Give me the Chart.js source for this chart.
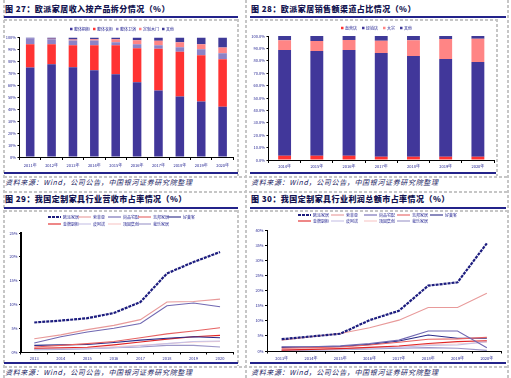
<!DOCTYPE html>
<html><head><meta charset="utf-8">
<script src="https://cdn.jsdelivr.net/npm/chart.js@4.4.0/dist/chart.umd.min.js"></script>
<style>
html,body{margin:0;padding:0;background:#fff;}
body{width:511px;height:378px;position:relative;overflow:hidden;font-family:"Noto Sans CJK SC","Noto Sans",sans-serif;}
.t{position:absolute;font-weight:900;font-size:8px;letter-spacing:0.45px;color:#141450;white-space:nowrap;line-height:10px;}
.src{position:absolute;font-style:italic;font-size:7px;letter-spacing:0.65px;color:#18185e;white-space:nowrap;line-height:9px;}
.rule{position:absolute;height:2px;background:#23238a;}
.dh{position:absolute;height:1.5px;background:repeating-linear-gradient(90deg,#c6c6c6 0 3px,transparent 3px 5px);}
.dv{position:absolute;width:1.5px;background:repeating-linear-gradient(180deg,#c6c6c6 0 3px,transparent 3px 5px);}
canvas{position:absolute;}
</style></head>
<body>
<div class="dv" style="left:3px;top:0;height:378px"></div>
<div class="dv" style="left:245px;top:0;height:378px"></div>
<div class="dv" style="left:507px;top:0;height:378px"></div>
<div class="dv" style="left:237px;top:19px;height:157px"></div>
<div class="dv" style="left:496px;top:19px;height:157px"></div>
<div class="dv" style="left:237px;top:210px;height:156px"></div>
<div class="dh" style="left:4px;top:19px;width:234px"></div>
<div class="dh" style="left:250px;top:19px;width:247px"></div>
<div class="dh" style="left:4px;top:176px;width:504px"></div>
<div class="dh" style="left:4px;top:191px;width:504px"></div>
<div class="dh" style="left:4px;top:210px;width:234px"></div>
<div class="dh" style="left:250px;top:210px;width:257px"></div>
<div class="dh" style="left:4px;top:366px;width:504px"></div>

<div class="t" style="left:5px;top:4px">图 27：欧派家居收入按产品拆分情况（%）</div>
<div class="t" style="left:251px;top:4px">图 28：欧派家居销售额渠道占比情况（%）</div>
<div class="t" style="left:5px;top:194px">图 29：我国定制家具行业营收市占率情况（%）</div>
<div class="t" style="left:251px;top:194px">图 30：我国定制家具行业利润总额市占率情况（%）</div>

<div class="rule" style="left:4px;top:16px;width:234px"></div>
<div class="rule" style="left:250px;top:16px;width:256px"></div>
<div class="rule" style="left:4px;top:172px;width:234px"></div>
<div class="rule" style="left:250px;top:172px;width:246px"></div>
<div class="rule" style="left:4px;top:207px;width:234px"></div>
<div class="rule" style="left:250px;top:207px;width:256px"></div>
<div class="rule" style="left:4px;top:362px;width:234px"></div>
<div class="rule" style="left:250px;top:362px;width:256px"></div>

<div class="src" style="left:5px;top:178px">资料来源：Wind，公司公告，中国银河证券研究院整理</div>
<div class="src" style="left:251px;top:178px">资料来源：Wind，公司公告，中国银河证券研究院整理</div>
<div class="src" style="left:5px;top:368px">资料来源：Wind，公司公告，中国银河证券研究院整理</div>
<div class="src" style="left:251px;top:368px">资料来源：Wind，公司公告，中国银河证券研究院整理</div>

<canvas id="c27" width="232" height="152" style="left:5px;top:20px"></canvas>
<canvas id="c28" width="245" height="152" style="left:251px;top:20px"></canvas>
<canvas id="c29" width="232" height="152" style="left:5px;top:210px"></canvas>
<canvas id="c30" width="255" height="152" style="left:251px;top:210px"></canvas>

<script>
// ---------- Chart 27 data ----------
const years27 = ['2011年','2012年','2013年','2014年','2015年','2016年','2017年','2018年','2019年','2020年'];
const cabinet27  = [75.0, 77.6, 75.1, 72.5, 69.2, 62.5, 55.7, 50.7, 46.5, 42.0];
const wardrobe27 = [19.4, 16.8, 18.5, 21.1, 24.4, 28.5, 34.8, 37.3, 38.7, 39.8];
const bath27     = [5.0, 4.2, 3.9, 3.9, 2.5, 3.4, 3.1, 3.9, 5.0, 5.0];
const door27     = [0.0, 0.3, 0.8, 1.1, 2.5, 3.4, 3.6, 4.2, 4.2, 4.8];
const other27    = [0.6, 1.1, 1.7, 1.4, 1.4, 2.2, 2.8, 3.9, 5.6, 8.4];

// ---------- Chart 28 data ----------
const years28 = ['2014年','2015年','2016年','2017年','2018年','2019年','2020年'];
const direct28 = [3.5, 3.5, 3.5, 2.7, 2.7, 2.7, 2.7];
const dealer28 = [85.2, 84.4, 85.2, 83.6, 81.2, 78.8, 76.3];
const bulk28   = [7.8, 8.1, 8.1, 9.9, 12.6, 16.1, 18.8];
const other28  = [3.5, 4.0, 3.2, 3.8, 3.5, 2.4, 2.2];

// ---------- Chart 29 data (revenue share) ----------
const years29 = ['2013','2014','2015','2016','2017','2018','2019','2020'];
const oppein29  = [6.2, 6.6, 7.1, 8.2, 10.5, 16.5, 18.9, 21.0];
const sogal29   = [2.8, 3.6, 4.7, 5.6, 6.8, 10.5, 10.6, 11.1];
const shangpin29= [1.9, 3.2, 4.2, 5.0, 6.0, 9.7, 10.3, 9.5];
const zbom29    = [1.05, 1.4, 1.75, 2.2, 3.0, 3.8, 4.4, 5.1];
const holike29  = [1.4, 1.5, 1.6, 2.0, 2.5, 2.9, 3.2, 3.0];
const goldenh29 = [0.8, 0.9, 1.0, 1.5, 2.1, 2.7, 3.2, 3.5];
const piano29   = [0.6, 0.65, 0.7, 0.9, 1.3, 1.75, 2.2, 2.3];
const topstrong29=[0.7, 0.75, 0.8, 1.1, 1.4, 1.8, 2.1, 2.2];
const wole29    = [0.5, 0.55, 0.7, 0.9, 1.05, 1.4, 1.4, 1.05];

// ---------- Chart 30 data (profit share) ----------
const years30 = ['2013年','2014年','2015年','2016年','2017年','2018年','2019年','2020年'];
const oppein30  = [3.9, 4.8, 5.7, 10.2, 13.3, 21.6, 22.7, 35.6];
const sogal30   = [3.6, 4.7, 5.8, 7.7, 10.2, 14.4, 14.4, 19.1];
const shangpin30= [1.4, 1.4, 1.7, 2.5, 3.6, 6.6, 6.6, 1.1];
const zbom30    = [0.9, 1.1, 1.3, 2.0, 2.9, 3.9, 4.0, 4.5];
const holike30  = [1.2, 1.3, 1.5, 2.2, 3.3, 5.3, 4.2, 4.2];
const goldenh30 = [0.3, 0.55, 0.8, 1.2, 1.65, 2.5, 3.1, 3.4];
const piano30   = [0.3, 0.4, 0.55, 0.9, 1.2, 1.8, 2.0, 3.1];
const topstrong30=[0.55, 0.6, 0.7, 1.1, 1.5, 2.2, 2.3, 2.9];
const wole30    = [0.2, 0.3, 0.45, 0.65, 0.9, 1.1, 0.9, 0.2];

const companies = ['欧派家居','索菲亚','尚品宅配','志邦家居','好莱客','金牌厨柜','皮阿诺','顶固集创','我乐家居'];

// ---------- styling ----------
const NAVY = '#41379a', RED = '#ff3333', LAV = '#8c82c6', PINK = '#ff8585';
const lineColors = ['#1c1c7e','#e89a9a','#7068b2','#e66262','#2b2b88','#e02626','#c6c2e6','#f8c6c6','#9c96c8'];
const TICK = '#1f1f8f';
Chart.defaults.font.family = '"Noto Sans CJK SC","Noto Sans",sans-serif';
Chart.defaults.font.size = 4;
Chart.defaults.color = TICK;

function gridLegend(cfg) {
  return {
    id: 'gridLegend',
    afterDraw(chart) {
      const ctx = chart.ctx;
      ctx.save();
      ctx.font = cfg.fontSize + 'px "Noto Sans CJK SC", sans-serif';
      ctx.textBaseline = 'middle';
      let x = cfg.x;
      chart.data.datasets.forEach((ds, i) => {
        let ix, iy;
        if (cfg.cols) { ix = cfg.x + (i % cfg.cols) * cfg.colW; iy = cfg.y + Math.floor(i / cfg.cols) * cfg.rowH; }
        else { ix = x; iy = cfg.y; }
        let mw;
        if (cfg.marker === 'box') {
          ctx.fillStyle = ds.backgroundColor;
          ctx.fillRect(ix, iy - cfg.box / 2, cfg.box, cfg.box);
          mw = cfg.box;
        } else {
          ctx.strokeStyle = ds.borderColor;
          ctx.lineWidth = ds.borderWidth;
          ctx.setLineDash(ds.borderDash || []);
          ctx.beginPath(); ctx.moveTo(ix, iy); ctx.lineTo(ix + cfg.lineLen, iy); ctx.stroke();
          ctx.setLineDash([]);
          mw = cfg.lineLen;
        }
        ctx.fillStyle = cfg.color;
        ctx.fillText(ds.label, ix + mw + cfg.gap, iy);
        if (!cfg.cols) x = ix + mw + cfg.gap + ctx.measureText(ds.label).width + cfg.spacing;
      });
      ctx.restore();
    }
  };
}

function axisX(h, tickLen, pad) {
  return {
    grid: { display: true, drawOnChartArea: false, drawTicks: true, tickLength: tickLen, color: '#000', offset: true, lineWidth: 1 },
    border: { display: true, color: '#000', width: 1 },
    ticks: { color: TICK, font: { size: 4 }, padding: pad, maxRotation: 0, autoSkip: false },
    afterFit: s => { s.height = h; }
  };
}
function axisY(w, min, max, step, fmt, bw) {
  return {
    min: min, max: max,
    grid: { display: true, drawOnChartArea: false, drawTicks: true, tickLength: 2, color: '#000' },
    border: { display: true, color: '#000', width: bw },
    ticks: { stepSize: step, color: TICK, font: { size: 4 }, padding: 1.5, callback: fmt },
    afterFit: s => { s.width = w; }
  };
}
const base = { responsive: false, animation: false, devicePixelRatio: 1,
  plugins: { legend: { display: false }, tooltip: { enabled: false } } };

// ---------- Chart 27 ----------
const bp = { barPercentage: 0.4, categoryPercentage: 1, borderWidth: 0 };
new Chart(document.getElementById('c27'), {
  type: 'bar',
  data: { labels: years27, datasets: [
    Object.assign({ label: '整体橱柜', data: cabinet27, backgroundColor: NAVY }, bp),
    Object.assign({ label: '整体衣柜', data: wardrobe27, backgroundColor: RED }, bp),
    Object.assign({ label: '整体卫浴', data: bath27, backgroundColor: LAV }, bp),
    Object.assign({ label: '定制木门', data: door27, backgroundColor: PINK }, bp),
    Object.assign({ label: '其他', data: other27, backgroundColor: '#3f3a98' }, bp)
  ]},
  options: Object.assign({}, base, {
    layout: { padding: { left: 0, right: 3.7, top: 17.5, bottom: 0 } },
    scales: {
      x: Object.assign(axisX(15, 3, 3), { stacked: true }),
      y: Object.assign(axisY(14.5, 0, 100, 10, v => v + '%', 1), { stacked: true })
    }
  }),
  plugins: [gridLegend({ marker: 'box', x: 65, y: 9, box: 2.5, gap: 1.5, fontSize: 4, color: TICK, cols: 5, colW: 23, rowH: 6 })]
});

// ---------- Chart 28 ----------
new Chart(document.getElementById('c28'), {
  type: 'bar',
  data: { labels: years28, datasets: [
    Object.assign({ label: '直营店', data: direct28, backgroundColor: RED }, bp),
    Object.assign({ label: '经销店', data: dealer28, backgroundColor: NAVY }, bp),
    Object.assign({ label: '大宗', data: bulk28, backgroundColor: PINK }, bp),
    Object.assign({ label: '其他', data: other28, backgroundColor: '#3f3a98' }, bp)
  ]},
  options: Object.assign({}, base, {
    layout: { padding: { left: 0, right: 2, top: 16, bottom: 0 } },
    scales: {
      x: Object.assign(axisX(12, 3, 1.5), { stacked: true }),
      y: Object.assign(axisY(17.5, 0, 100, 10, v => v.toFixed(1) + '%', 1), { stacked: true })
    }
  }),
  plugins: [gridLegend({ marker: 'box', x: 90, y: 8, box: 2.5, gap: 1.5, fontSize: 4, color: TICK, spacing: 5 })]
});

// ---------- line charts ----------
function lineSets(series) {
  return series.map((d, i) => ({
    label: companies[i], data: d, borderColor: lineColors[i],
    borderWidth: i === 0 ? 2.2 : 1.1, borderDash: i === 0 ? [3, 1] : [],
    pointRadius: 0, tension: 0, fill: false
  }));
}

new Chart(document.getElementById('c29'), {
  type: 'line',
  data: { labels: years29, datasets: lineSets([oppein29, sogal29, shangpin29, zbom29, holike29, goldenh29, piano29, topstrong29, wole29]) },
  options: Object.assign({}, base, {
    layout: { padding: { left: 0, right: 3.7, top: 23, bottom: 0 } },
    scales: {
      x: Object.assign(axisX(10, 2.5, 1.5), { offset: true }),
      y: axisY(16, 0, 25, 5, v => v + '%', 2)
    }
  }),
  plugins: [gridLegend({ marker: 'line', x: 43, y: 7, lineLen: 13, gap: 2, fontSize: 4, color: TICK, cols: 5, colW: 30, rowH: 7 })]
});

new Chart(document.getElementById('c30'), {
  type: 'line',
  data: { labels: years30, datasets: lineSets([oppein30, sogal30, shangpin30, zbom30, holike30, goldenh30, piano30, topstrong30, wole30]) },
  options: Object.assign({}, base, {
    layout: { padding: { left: 0, right: 4.5, top: 20, bottom: 0 } },
    scales: {
      x: Object.assign(axisX(11, 2.5, 2.5), { offset: true }),
      y: axisY(16, 0, 40, 5, v => v + '%', 1)
    }
  }),
  plugins: [gridLegend({ marker: 'line', x: 47, y: 5, lineLen: 13, gap: 2, fontSize: 4, color: TICK, cols: 5, colW: 33, rowH: 6 })]
});
</script>
</body></html>
